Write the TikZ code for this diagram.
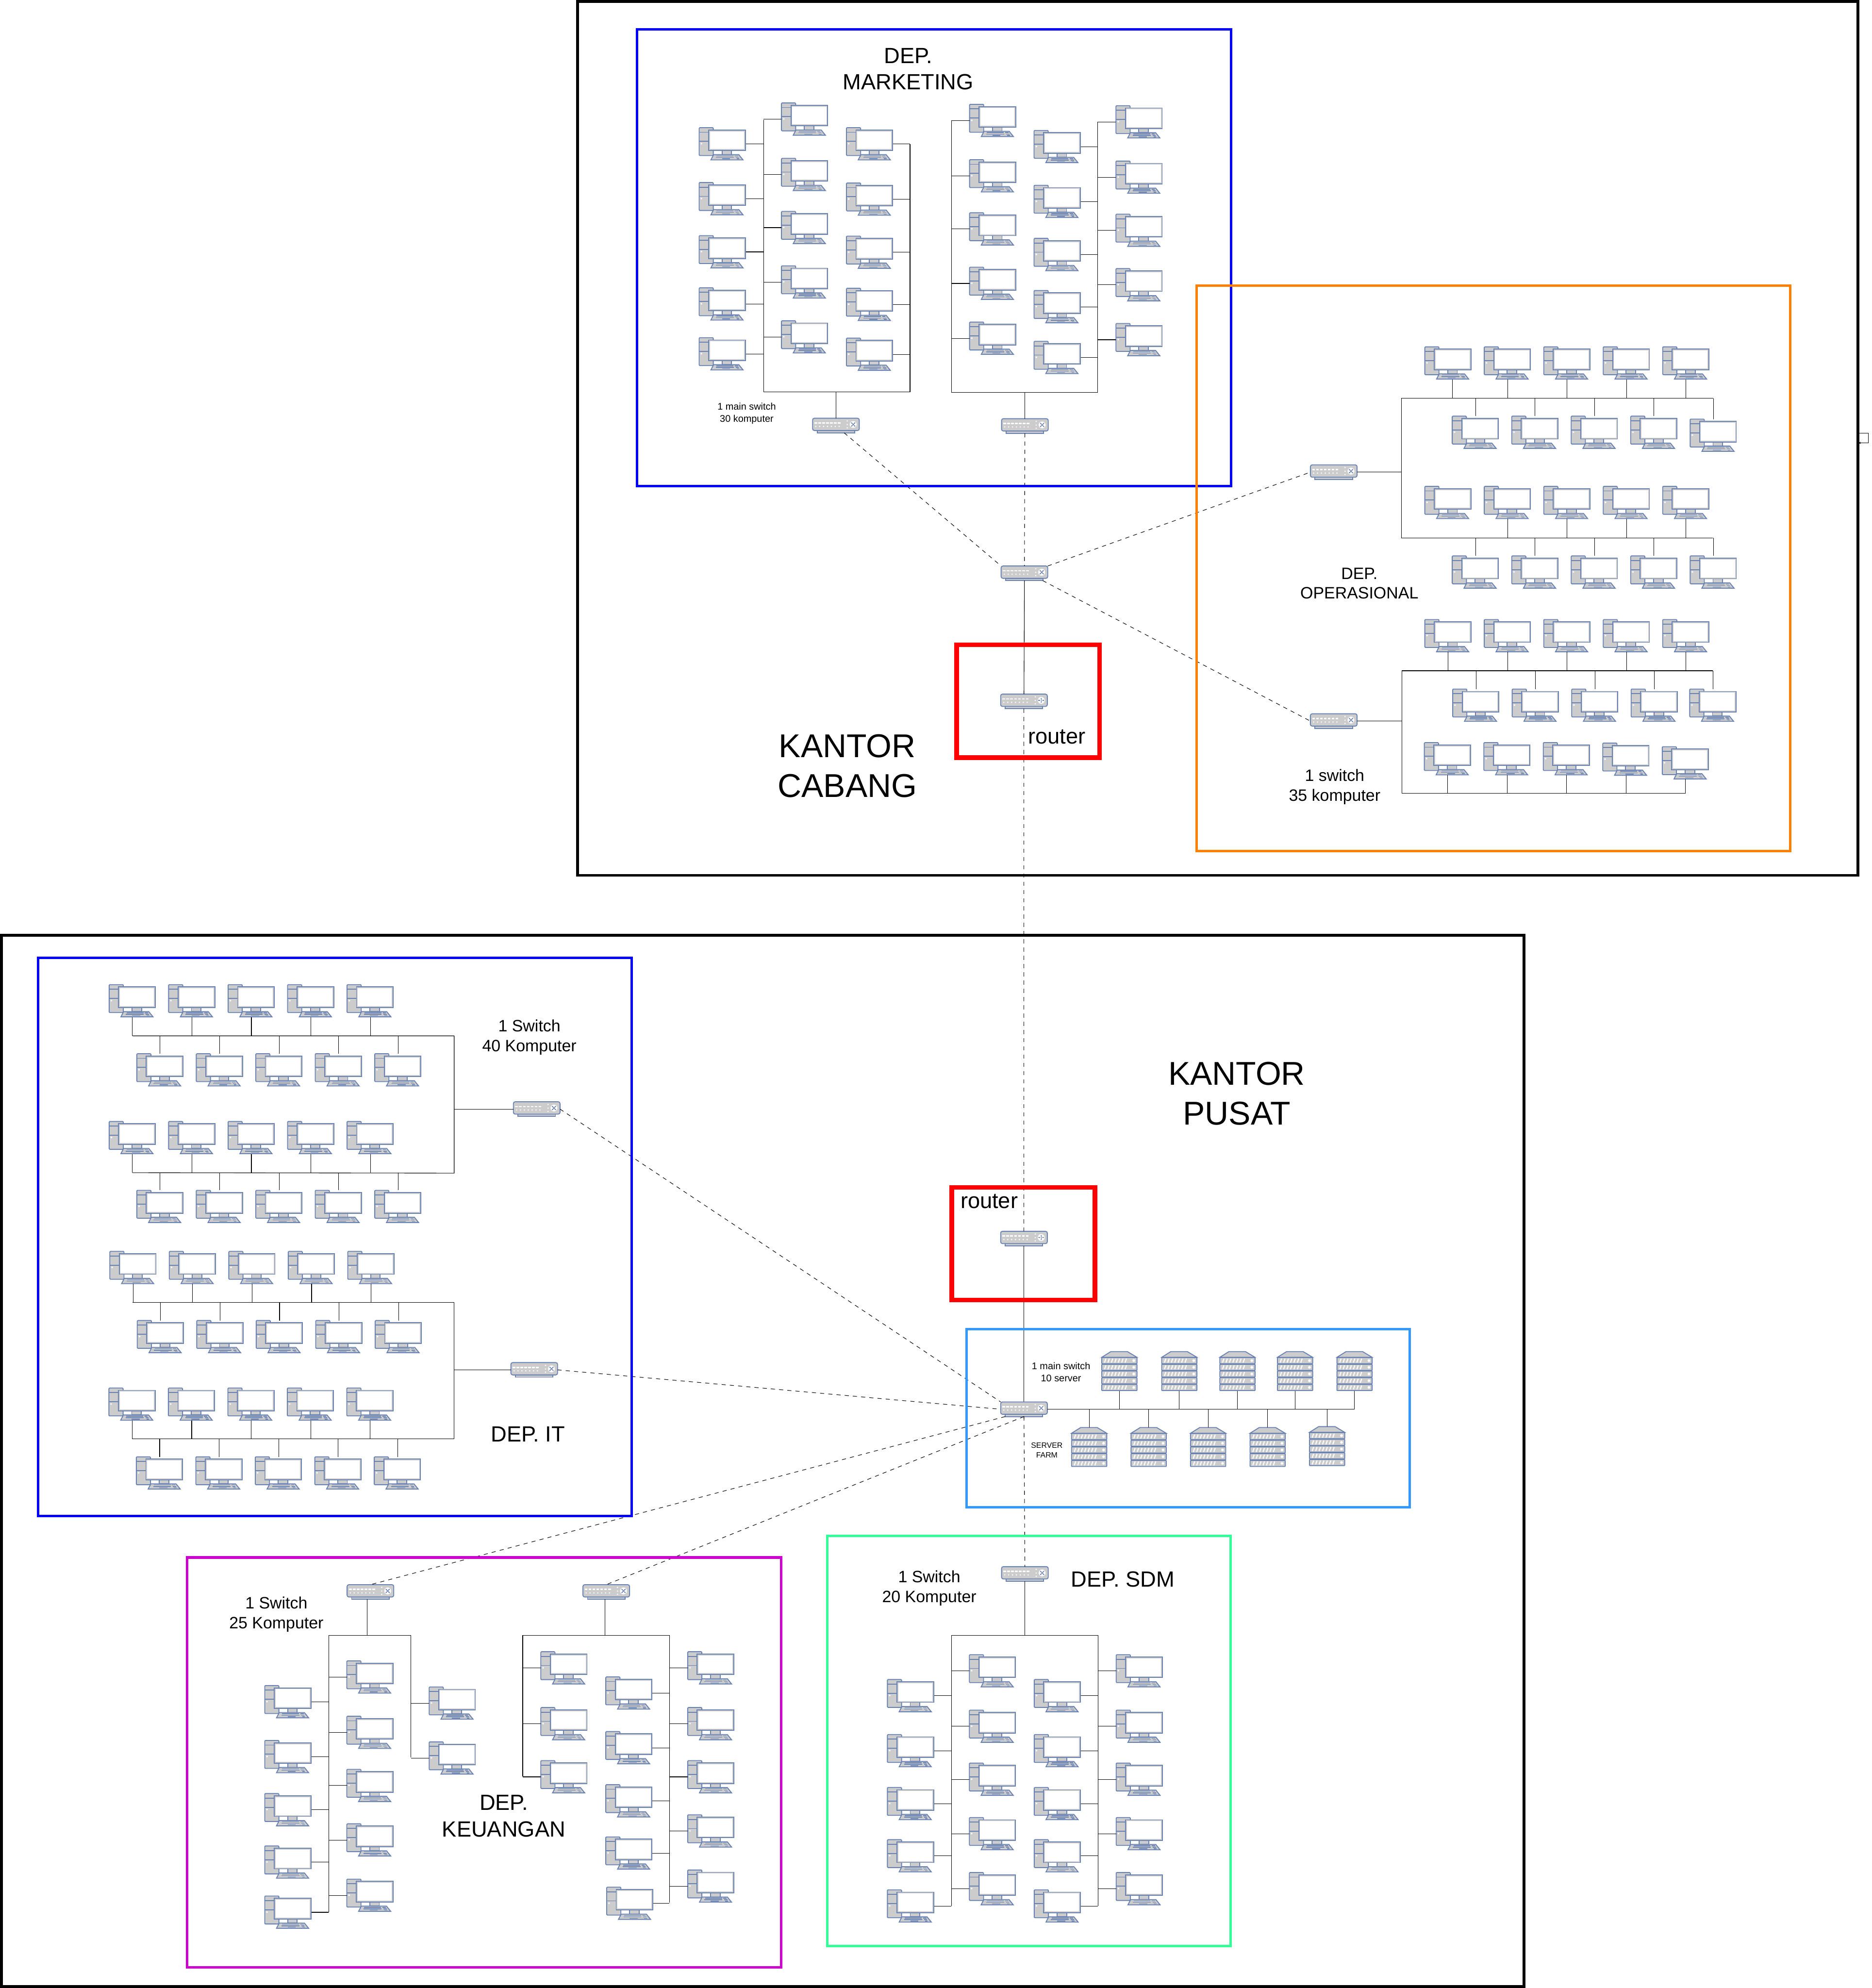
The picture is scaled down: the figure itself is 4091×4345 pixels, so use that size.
\documentclass[tikz,border=0pt]{standalone}
\usepackage{fontspec}
\setmainfont{Liberation Sans}
\usepackage{xcolor}
\usetikzlibrary{arrows.meta, calc, fit}
\definecolor{iconline}{HTML}{6881B3}
\definecolor{iconfill}{HTML}{CCCCCC}
\definecolor{farmblue}{HTML}{3399FF}
\definecolor{depgreen}{HTML}{33FF99}
\definecolor{depmagenta}{HTML}{CC00CC}
\definecolor{deporange}{HTML}{FF8000}

\tikzset{
 icon/.style={draw=iconline, fill=iconfill, line width=0.56pt},
 iconkey/.style={draw=iconline, line width=0.4pt},
 pccomp/.pic={
  \draw[icon, rounded corners=0.15mm] (0,0) rectangle (31,61);
  \draw[icon] (0,10)--(31,10) (0,30)--(31,30);
  \fill[white] (5,35) circle (2);
  \draw[icon] (20.7,5) rectangle (101,50);
  \fill[white] (23.5,8) rectangle (98,47);
  \draw[icon] (50,50) rectangle (71,59);
  \draw[icon] (31.7,59)--(86.7,59)--(96,70.5)--(25.7,70.5)--cycle;
  \draw[iconkey] (38,61.7)--(75,61.7) (36.7,65)--(75.7,65) (50,68)--(67.7,68)
   (78,61.7)--(85,61.7) (80,65)--(87,65) (82,68)--(88,68);
 },
 hubtip/.style={iconkey, {Stealth[length=0.3mm,width=0.3mm]}-{Stealth[length=0.3mm,width=0.3mm]}},
 switchcomp/.pic={
  \hubbody
  \draw[hubtip] (84,9)--(93.5,18.5);
  \draw[hubtip] (93.5,9)--(84,18.5);
 },
 routercomp/.pic={
  \hubbody
  \draw[hubtip] (88.7,8)--(88.7,19.5);
  \draw[iconkey, -{Stealth[length=0.3mm,width=0.3mm]}] (82.5,13.7)--(87,13.7);
  \draw[iconkey, -{Stealth[length=0.3mm,width=0.3mm]}] (95,13.7)--(90.5,13.7);
 },
 servercomp/.pic={
  \draw[icon] (20,0)--(56,0)--(77,12.5)--(0,12.5)--cycle;
  \foreach \b in {13,27.7,42.3,57,71.7}{
   \draw[icon, rounded corners=0.1mm] (0,\b) rectangle (77,\b+13.5);
   \foreach \s in {6,13.5,21,28.5,36,43.5,51}
    \draw[white, line width=0.65pt] (\s,\b+11) -- (\s+3,\b+2.5);
   \fill[white] (70,\b+6.7) circle (3);
  }
 },
}
\newcommand{\hubbody}{
  \draw[icon] (10,27) rectangle (92,32);
  \draw[icon, rounded corners=0.4mm] (0,0) rectangle (102,27);
  \foreach \p in {0,...,6}{
   \fill[white] (4+8.5*\p,9) rectangle (10+8.5*\p,12);
   \fill[white] (7+8.5*\p,18) circle (1.6);
  }
  \fill[white] (75.7,6) circle (1.6) (75.7,14) circle (1.6) (75.7,21) circle (1.6);
  \fill[white] (88.7,13.7) circle (7.5);
}
% top left corner of the icon, the node is what connectors attach to
\newcommand{\pc}[3]{\pic at (#2,#3) {pccomp}; \node[pcbox] (#1) at (#2+51,#3+35.5) {};}
\newcommand{\swnode}[3]{\pic at (#2,#3) {switchcomp}; \node[hubbox] (#1) at (#2+51,#3+16) {};}
\newcommand{\rtnode}[3]{\pic at (#2,#3) {routercomp}; \node[hubbox] (#1) at (#2+51,#3+16) {};}
\newcommand{\srv}[3]{\pic at (#2,#3) {servercomp}; \node[srvbox] (#1) at (#2+38.5,#3+43) {};}

\begin{document}
\begin{tikzpicture}[
 x=0.1mm, y=-0.1mm,
 pcbox/.style={inner sep=0, outer sep=0, minimum width=10.2mm, minimum height=7.1mm},
 hubbox/.style={inner sep=0, outer sep=0, minimum width=10.2mm, minimum height=3.2mm},
 srvbox/.style={inner sep=0, outer sep=0, minimum width=7.7mm, minimum height=8.6mm},
 link/.style={draw=black, line width=0.33pt},
 uplink/.style={link, dash pattern=on 0.9mm off 0.9mm},
 framebox/.style={inner sep=0, outer sep=0, line width=1.7pt},
 roombox/.style={inner sep=0, outer sep=0, line width=1.55pt},
 redbox/.style={inner sep=0, outer sep=0, line width=2.85pt, draw=red},
 officelbl/.style={inner sep=0, align=center, font=\fontsize{20.5}{24.6}\selectfont},
 deplbl/.style={inner sep=0, align=center, font=\fontsize{13.66}{16.4}\selectfont},
 infolbl/.style={inner sep=0, align=center, font=\fontsize{10.24}{12.3}\selectfont},
 tinylbl/.style={inner sep=0, align=center, font=\fontsize{6}{7.5}\selectfont},
 farmlbl/.style={inner sep=0, align=center, font=\fontsize{4.8}{6}\selectfont}]
\useasboundingbox (0,0) rectangle (4091,4345);

% kantor cabang, marketing
\coordinate (mla) at (1669,262);
\coordinate (mlb) at (1669,857);
\coordinate (mrb) at (1989,857);
\coordinate (mra) at (1989,315);
\draw[link] (mla)--(mlb)--(mrb)--(mra);
\foreach \i/\y in {1/279,2/399,3/515,4/629,5/738}{\pc{mka\i}{1528}{\y} \draw[link] (mka\i.east)--(mka\i.east -| mla);}
\foreach \i/\y in {1/225,2/346,3/462,4/581,5/701}{\pc{mkb\i}{1708}{\y} \draw[link] (mkb\i.west)--(mkb\i.west -| mla);}
\foreach \i/\y in {1/279,2/400,3/516,4/630,5/739}{\pc{mkc\i}{1850}{\y} \draw[link] (mkc\i.east)--(mkc\i.east -| mra);}
\coordinate (nla) at (2080,263);
\coordinate (nlb) at (2080,858);
\coordinate (nrb) at (2399,858);
\coordinate (nra) at (2399,266);
\draw[link] (nla)--(nlb)--(nrb)--(nra);
\foreach \i/\y in {1/228,2/349,3/465,4/584,5/704}{\pc{mkd\i}{2119}{\y} \draw[link] (mkd\i.west)--(mkd\i.west -| nla);}
\foreach \i/\y in {1/285,2/405,3/521,4/635,5/746}{\pc{mke\i}{2260}{\y} \draw[link] (mke\i.east)--(mke\i.east -| nra);}
\foreach \i/\y in {1/231,2/352,3/468,4/587,5/707}{\pc{mkf\i}{2439}{\y} \draw[link] (mkf\i.west)--(mkf\i.west -| nra);}
\swnode{mksw1}{1776}{914}
\swnode{mksw2}{2189}{915}
\draw[link] (mksw1.north)--(mksw1.north |- mlb);
\draw[link] (mksw2.north)--(mksw2.north |- nlb);

% kantor cabang, switch and router
\swnode{cbsw}{2188}{1237}
\rtnode{cbrt}{2187}{1517}
\draw[link] (cbsw.south)--(cbrt.north);
\draw[uplink] ($(mksw1.south)+(18,0)$)--(cbsw.north west);
\draw[uplink] (mksw2.south)--(cbsw.north);

% kantor cabang, operasional
\def\rowa{1/3114,2/3244,3/3374,4/3504,5/3634}
\def\rowb{1/3174,2/3304,3/3434,4/3564}
\coordinate (opa) at (3063,870.5);
\coordinate (opb) at (3745,870.5);
\coordinate (opc) at (3063,1175.5);
\coordinate (opd) at (3744,1175.5);
\draw[link] (opb)--(opa)--(opc)--(opd);
\swnode{opsw1}{2864}{1016}
\draw[link] (opsw1.east)--(opsw1.east -| opa);
\foreach \i/\x in \rowa{\pc{opa\i}{\x}{758}}
\coordinate (opdrop) at (3174,870.5);
\draw[link] (opa1.south -| opdrop)--(opdrop);
\foreach \i in {2,...,5}{\draw[link] (opa\i.south)--(opa\i.south |- opa);}
\foreach \i/\x in \rowb{\pc{opb\i}{\x}{909.5} \draw[link] (opb\i.north)--(opb\i.north |- opa);}
\pc{opb5}{3694}{916}
\draw[link] (opb5.north)--(opb5.north |- opa);
\foreach \i/\x in \rowa{\pc{opc\i}{\x}{1063}}
\foreach \i in {2,...,5}{\draw[link] (opc\i.south)--(opc\i.south |- opc);}
\foreach \i/\x in \rowb{\pc{opd\i}{\x}{1215} \draw[link] (opd\i.north)--(opd\i.north |- opc);}
\pc{opd5}{3694}{1215}
\draw[link] (opd5.north)--(opd5.north |- opc);

\coordinate (ope) at (3743,1466);
\coordinate (opf) at (3064,1466);
\coordinate (opg) at (3064,1734);
\coordinate (oph) at (3684,1734);
\draw[link] (ope)--(opf)--(opg)--(oph);
\swnode{opsw2}{2864}{1560}
\draw[link] (opsw2.east)--(opsw2.east -| opf);
\foreach \i/\x in \rowa{\pc{ope\i}{\x}{1354} \draw[link] (ope\i.south)--(ope\i.south |- opf);}
\foreach \i/\x in {1/3175,2/3305,3/3435,4/3565,5/3693}{\pc{opf\i}{\x}{1506} \draw[link] (opf\i.north)--(opf\i.north |- opf);}
\foreach \i/\x/\y in {1/3113/1623,2/3243/1623,3/3373/1623,4/3503/1624,5/3633/1632}{\pc{opg\i}{\x}{\y} \draw[link] (opg\i.south)--(opg\i.south |- opg);}
\draw[uplink] (cbsw.north east)--(opsw1.west);
\draw[uplink] ($(cbsw.south east)+(-11,0)$)--(opsw2.west);

% kantor pusat, dep it
\def\rowc{1/238.5,2/368.5,3/498.5,4/628.5,5/758.5}
\coordinate (ita) at (289.5,2264);
\coordinate (itb) at (992.6,2264);
\coordinate (itc) at (992.6,2564);
\coordinate (itd) at (289.5,2563);
\draw[link] (ita)--(itb)--(itc)--(itd);
\foreach \i/\x in \rowc{\pc{ita\i}{\x}{2152} \draw[link] (ita\i.south)--(ita\i.south |- ita);}
\foreach \i/\x in \rowc{\pc{itb\i}{\x+60.5}{2303} \draw[link] (itb\i.north)--(itb\i.north |- ita);}
\foreach \i/\x in \rowc{\pc{itc\i}{\x}{2451} \draw[link] (itc\i.south)--(itc\i.south |- itd);}
\foreach \i/\x in \rowc{\pc{itd\i}{\x+60.5}{2601.5} \draw[link] (itd\i.north)--(itd\i.north |- itd);}
\swnode{itsw1}{1122}{2408}
\draw[link] (itsw1.west)--(itsw1.west -| itb);
\coordinate (ite) at (290,2847);
\coordinate (itf) at (992.6,2847);
\coordinate (itg) at (992.6,3145);
\coordinate (ith) at (289,3145);
\draw[link] (ite)--(itf)--(itg)--(ith);
\foreach \i/\x in \rowc{\pc{ite\i}{\x+1.5}{2735} \draw[link] (ite\i.south)--(ite\i.south |- ite);}
\foreach \i/\x in \rowc{\pc{itf\i}{\x+61.5}{2886} \draw[link] (itf\i.north)--(itf\i.north |- ite);}
\foreach \i/\x in \rowc{\pc{itg\i}{\x-0.5}{3033.6} \draw[link] (itg\i.south)--(itg\i.south |- ith);}
\foreach \i/\x in \rowc{\pc{ith\i}{\x+59.5}{3184} \draw[link] (ith\i.north)--(ith\i.north |- ith);}
\swnode{itsw2}{1116.6}{2978}
\draw[link] (itsw2.west)--(itsw2.west -| itf);

% kantor pusat, server farm
\swnode{hqsw}{2187}{3064}
\rtnode{hqrt}{2187}{2691}
\draw[link] (hqsw.north)--(hqrt.south);
\draw[uplink] (cbrt.south)--(hqrt.north);
\foreach \i/\x in {1/2408,2/2539,3/2666,4/2792,5/2922}{\srv{sva\i}{\x}{2954}}
\foreach \i/\x/\y in {1/2342/3120,2/2472/3120,3/2602/3120,4/2732/3120,5/2862/3118}{\srv{svb\i}{\x}{\y}}
\draw[link] (hqsw.east)--(hqsw.east -| sva5.south);
\foreach \i in {1,...,5}{
 \draw[link] (sva\i.south)--(sva\i.south |- hqsw.east);
 \draw[link] (svb\i.north)--(svb\i.north |- hqsw.east);
}
\draw[uplink] (itsw1.east)--(hqsw.north west);
\draw[uplink] (itsw2.east)--(hqsw.west);

% kantor pusat, keuangan
\swnode{kusw1}{758.6}{3463.4}
\swnode{kusw2}{1274}{3463.4}
\coordinate (kua) at (718.6,4179);
\coordinate (kub) at (718.6,3574);
\coordinate (kuc) at (898,3574);
\coordinate (kud) at (898,3841.5);
\coordinate (kudrop) at (802.5,3574);
\draw[link] (kua)--(kub)--(kuc)--(kud);
\draw[link] (kusw1.south -| kudrop)--(kudrop);
\foreach \i/\y in {1/3684,2/3804,3/3920,4/4034.5,5/4144}{\pc{kua\i}{578.6}{\y} \draw[link] (kua\i.east)--(kua\i.east -| kua);}
\foreach \i/\y in {1/3630,2/3751,3/3867,4/3986,5/4107}{\pc{kub\i}{758}{\y} \draw[link] (kub\i.west)--(kub\i.west -| kua);}
\foreach \i/\y in {1/3687,2/3807}{\pc{kuc\i}{938}{\y} \draw[link] (kuc\i.west)--(kuc\i.west -| kud);}
\coordinate (kue) at (1142.5,3882);
\coordinate (kuf) at (1142.5,3574);
\coordinate (kug) at (1463,3574);
\coordinate (kuh) at (1463,4158);
\coordinate (kuedrop) at (1322.5,3574);
\draw[link] (kue)--(kuf)--(kug)--(kuh);
\draw[link] (kusw2.south -| kuedrop)--(kuedrop);
\foreach \i/\y in {1/3610,2/3732,3/3848}{\pc{kud\i}{1182}{\y} \draw[link] (kud\i.west)--(kud\i.west -| kue);}
\foreach \i/\x/\y in {1/1324/3665,2/1324/3784.5,3/1324/3900.6,4/1324/4014.7,5/1326/4124.5}{\pc{kue\i}{\x}{\y} \draw[link] (kue\i.east)--(kue\i.east -| kuh);}
\foreach \i/\y in {1/3610,2/3732,3/3848,4/3966.5,5/4087}{\pc{kuf\i}{1503}{\y} \draw[link] (kuf\i.west)--(kuf\i.west -| kuh);}
\draw[uplink] ($(hqsw.south west)+(10,0)$)--(kusw1.north);
\draw[uplink] (hqsw.south)--(kusw2.north);

% kantor pusat, sdm
\swnode{sdsw}{2189}{3424}
\coordinate (sda) at (2079.5,4166);
\coordinate (sdb) at (2079.5,3574.7);
\coordinate (sdc) at (2400,3574.7);
\coordinate (sdd) at (2400,4166);
\draw[link] (sda)--(sdb)--(sdc)--(sdd);
\draw[link] (sdsw.south)--(sdsw.south |- sdb);
\foreach \i/\y in {1/3670.7,2/3791,3/3906.6,4/4020.7,5/4130.4}{
 \pc{sda\i}{1939.5}{\y} \draw[link] (sda\i.east)--(sda\i.east -| sda);
 \pc{sdc\i}{2260.4}{\y} \draw[link] (sdc\i.east)--(sdc\i.east -| sdd);
}
\foreach \i/\y in {1/3616.4,2/3737.6,3/3853.4,4/3972.4,5/4092.6}{
 \pc{sdb\i}{2118.6}{\y} \draw[link] (sdb\i.west)--(sdb\i.west -| sda);
 \pc{sdd\i}{2439.5}{\y} \draw[link] (sdd\i.west)--(sdd\i.west -| sdd);
}
\draw[uplink] (hqsw.south)--(sdsw.north);

% boxes
\node[framebox, draw=black, fit={(1262,3) (4061,1913)}] (cabang) {};
\node[framebox, draw=black, fit={(3,2044) (3331,4342)}] (pusat) {};
\node[roombox, draw=blue, fit={(1392,64) (2691,1062)}] (marketing) {};
\node[roombox, draw=deporange, fit={(2615,624) (3913,1860)}] (operasional) {};
\node[roombox, draw=blue, fit={(83,2093) (1381,3313)}] (depit) {};
\node[roombox, draw=farmblue, fit={(2113,2905) (3081,3294)}] (farm) {};
\node[roombox, draw=depmagenta, fit={(409,3404) (1707,4300)}] (keuangan) {};
\node[roombox, draw=depgreen, fit={(1808,3357) (2690,4253)}] (sdm) {};
\node[redbox, fit={(2091,1409) (2403,1656)}] (cbred) {};
\node[redbox, fit={(2080,2595) (2393,2841)}] (hqred) {};
\coordinate (loopa) at (4062,947);
\coordinate (loopb) at (4083,947);
\coordinate (loopc) at (4062,968);
\draw[link, -{Stealth[length=0.5mm,width=0.5mm]}] (loopa)--(loopb)|-(loopc);

% labels
\node[officelbl] (lbcabang) at (1852,1674) {KANTOR\\CABANG};
\node[officelbl] (lbpusat) at (2703,2390) {KANTOR\\PUSAT};
\node[deplbl] (lbmarketing) at (1985,151) {DEP.\\MARKETING};
\node[deplbl] (lbit) at (1154,3134) {DEP. IT};
\node[deplbl] (lbkeuangan) at (1101,3969) {DEP.\\KEUANGAN};
\node[deplbl] (lbsdm) at (2454,3452) {DEP. SDM};
\node[deplbl] (lbrt1) at (2310,1610) {router};
\node[deplbl] (lbrt2) at (2162,2625) {router};
\node[infolbl] (lboperasional) at (2971,1275) {DEP.\\OPERASIONAL};
\node[infolbl] (lbsw35) at (2917,1720) {1 switch\\35 komputer};
\node[infolbl] (lbsw40) at (1157,2267) {1 Switch\\40 Komputer};
\node[infolbl] (lbsw25) at (604,3528) {1 Switch\\25 Komputer};
\node[infolbl] (lbsw20) at (2031,3471) {1 Switch\\20 Komputer};
\node[tinylbl] (lbmain30) at (1632,904) {1 main switch\\30 komputer};
\node[tinylbl] (lbmain10) at (2319,2999) {1 main switch\\10 server};
\node[farmlbl] (lbfarm) at (2288,3170) {SERVER\\FARM};
\end{tikzpicture}
\end{document}
